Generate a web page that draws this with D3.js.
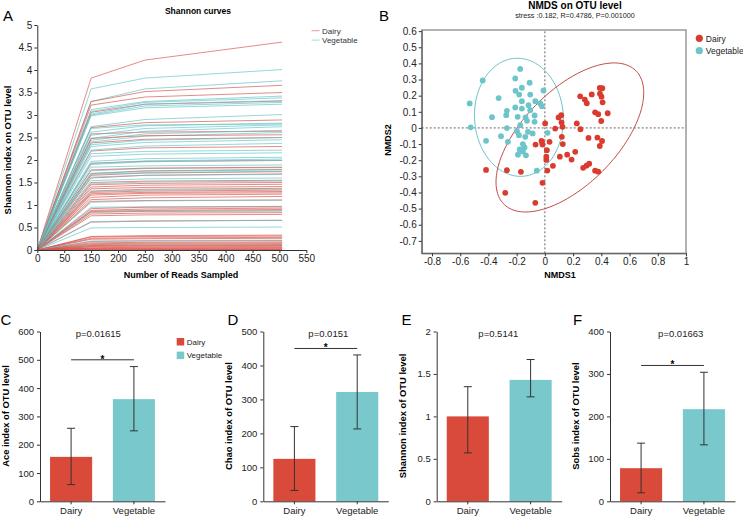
<!DOCTYPE html>
<html><head><meta charset="utf-8">
<script src="https://cdn.jsdelivr.net/npm/d3@7"></script>
<style>
body{margin:0;background:#fff}
svg{display:block;font-family:"Liberation Sans",Arial,Helvetica,sans-serif}
</style>
</head><body>
<svg id="c" width="743" height="518"></svg>
<script>
// ================= DATA =================
const groups = ["Dairy", "Vegetable"];

// Panel A: Shannon rarefaction curves
const readsTickLabels = [0, 50, 150, 200, 250, 300, 350, 400, 450, 500, 550];
const readsSamples = [0, 150, 250, 505];
const shannonTicks = [0, 0.5, 1, 1.5, 2, 2.5, 3, 3.5, 4, 4.5, 5];
// values at reads 150, 250, 505 (value at 0 reads is 0)
const dairyCurves = [
  [3.82,4.22,4.62],[3.30,3.52,3.66],[3.22,3.40,3.50],[3.06,3.24,3.31],[2.72,2.83,2.89],
  [2.58,2.62,2.64],[2.38,2.46,2.50],[2.20,2.27,2.30],[1.93,1.97,1.99],[1.70,1.76,1.79],
  [1.66,1.71,1.74],[1.60,1.66,1.69],[1.50,1.53,1.55],[1.45,1.48,1.50],[1.40,1.44,1.46],
  [1.36,1.39,1.41],[1.31,1.35,1.37],[1.28,1.31,1.33],[1.25,1.28,1.30],[1.22,1.26,1.27],
  [1.12,1.16,1.19],[1.08,1.10,1.11],[0.88,0.91,0.93],[0.86,0.88,0.90],[0.84,0.86,0.87],
  [0.80,0.82,0.83],[0.76,0.78,0.79],[0.62,0.64,0.66],[0.30,0.32,0.33],[0.29,0.30,0.31],
  [0.26,0.27,0.28],[0.24,0.25,0.26],[0.19,0.20,0.21],[0.16,0.17,0.18],[0.14,0.15,0.16],
  [0.12,0.13,0.14],[0.10,0.11,0.12],[0.08,0.09,0.10],[0.07,0.07,0.08],[0.05,0.06,0.06],
  [0.04,0.04,0.05],[0.03,0.03,0.03],[0.02,0.02,0.02],[0.01,0.01,0.01],[0.00,0.00,0.00],
  [0.00,0.00,0.00],[1.78,1.82,1.84],[1.17,1.22,1.24],[0.92,0.95,0.96],[2.48,2.54,2.56]
];
const vegetableCurves = [
  [3.58,3.82,4.01],[3.30,3.58,3.76],[3.12,3.30,3.42],[3.08,3.28,3.38],[3.02,3.24,3.32],
  [2.98,3.16,3.24],[2.74,2.90,3.01],[2.62,2.76,2.82],[2.55,2.70,2.78],[2.48,2.64,2.74],
  [2.44,2.58,2.66],[2.40,2.53,2.61],[2.30,2.39,2.45],[2.22,2.31,2.37],[2.14,2.19,2.22],
  [2.08,2.13,2.16],[1.97,2.03,2.06],[1.92,1.98,2.02],[1.90,1.96,1.99],[1.84,1.87,1.89],
  [1.76,1.81,1.83],[1.68,1.72,1.75],[1.62,1.66,1.68],[1.54,1.58,1.60],[1.47,1.51,1.53],
  [1.30,1.33,1.35],[1.06,1.09,1.11],[0.95,0.96,0.97],[0.84,0.86,0.87],[0.63,0.65,0.66],
  [0.49,0.50,0.51],[2.70,2.78,2.80],[3.00,3.20,3.28],[2.34,2.44,2.50],[1.70,1.75,1.78],
  [0.20,0.21,0.22],[0.10,0.10,0.11]
];

// Panel B: NMDS
const nmdsXTicks = [-0.8, -0.6, -0.4, -0.2, 0, 0.2, 0.4, 0.6, 0.8, 1];
const nmdsYTicks = [0.6, 0.5, 0.4, 0.3, 0.2, 0.1, 0, -0.1, -0.2, -0.3, -0.4, -0.5, -0.6, -0.7];
const nmdsDairy = [
  [-0.417,-0.26],[-0.269,-0.262],[-0.17,-0.272],[-0.281,-0.402],[-0.068,-0.464],[-0.017,-0.34],
  [0.017,-0.264],[0.002,0.028],[-0.066,-0.103],[-0.017,-0.103],[-0.021,-0.086],[0.033,-0.086],
  [0.014,-0.138],[0.010,-0.178],[0.010,-0.198],[0.057,-0.235],[0.073,-0.004],[0.097,0.065],
  [0.116,0.079],[0.118,0.034],[0.125,0.007],[0.120,-0.055],[0.127,-0.1],[0.106,-0.178],
  [0.158,-0.166],[0.189,-0.196],[0.215,-0.148],[0.226,0.028],[0.252,-0.008],[0.309,-0.062],
  [0.250,0.196],[0.283,0.176],[0.297,0.153],[0.332,0.208],[0.389,0.248],[0.407,0.246],
  [0.390,0.213],[0.401,0.194],[0.409,0.159],[0.356,0.097],[0.378,0.085],[0.445,0.091],
  [0.399,0.043],[0.372,-0.06],[0.405,-0.081],[0.389,-0.112],[0.314,-0.222],[0.295,-0.234],
  [0.271,-0.247],[0.356,-0.265],[0.378,-0.271],[-0.024,-0.08]
];
const nmdsVegetable = [
  [-0.175,0.366],[-0.441,0.294],[-0.21,0.307],[-0.108,0.28],[-0.163,0.249],[-0.208,0.23],
  [-0.182,0.207],[-0.010,0.232],[-0.328,0.185],[-0.533,0.152],[-0.104,0.207],[-0.163,0.166],
  [-0.068,0.166],[-0.033,0.152],[-0.021,0.135],[-0.116,0.141],[-0.21,0.127],[-0.163,0.12],
  [-0.269,0.106],[-0.274,0.079],[-0.104,0.11],[-0.193,0.069],[-0.137,0.065],[-0.073,0.077],
  [-0.375,0.067],[-0.127,0.044],[-0.073,0.038],[-0.175,0.017],[-0.526,0.004],[-0.269,-0.001],
  [-0.198,-0.02],[-0.12,-0.024],[-0.087,-0.034],[-0.184,-0.045],[-0.311,-0.051],[-0.139,-0.055],
  [0.019,-0.03],[-0.417,-0.08],[-0.262,-0.086],[-0.156,-0.1],[-0.144,-0.121],[-0.179,-0.133],
  [-0.156,-0.147],[-0.191,-0.166],[-0.134,-0.17],[-0.057,-0.265]
];
// confidence ellipses: [centerX, centerY, varX, varY, covXY]
const ellipseDairy = [0.177, -0.059, 0.274, 0.2134, 0.145];
const ellipseVegetable = [-0.184, 0.066, 0.0992, 0.134, -0.004];
const nmdsTitle = "NMDS on OTU level";
const nmdsSubtitle = "stress :0.182, R=0.4786, P=0.001000";

// Panels C-F: alpha diversity bars
const barLetters = ["C", "D", "E", "F"];
const barYLabels = ["Ace index of OTU level", "Chao index of OTU level", "Shannon index of OTU level", "Sobs index of OTU level"];
const barMeans = [[157, 361], [125, 322], [1.0, 1.43], [78, 217]];
const barLow = [[59, 249], [32, 213], [0.57, 1.23], [20, 133]];
const barHigh = [[258, 476], [220, 431], [1.35, 1.67], [137, 304]];
const barPValues = ["p=0.01615", "p=0.0151", "p=0.5141", "p=0.01663"];
const barSigLevel = [500, 450, null, 320];
const barYTicks = [
  [0, 100, 200, 300, 400, 500, 600],
  [0, 100, 200, 300, 400, 500],
  [0, 0.5, 1, 1.5, 2],
  [0, 100, 200, 300, 400]
];

// ================= STYLE / LAYOUT =================
const RED = "#da4a3a", CYAN = "#78c8cc";
const LINE_RED = "#d9534a", LINE_CYAN = "#62c3c8";
const AXIS = "#333";
const svg = d3.select("#c");

function styleAxis(g, fs) {
  g.selectAll(".domain").attr("stroke", AXIS).attr("stroke-width", 1);
  g.selectAll(".tick line").attr("stroke", AXIS);
  g.selectAll(".tick text").attr("fill", "#222").style("font-size", fs + "px")
    .style("font-family", '"Liberation Sans",Arial,sans-serif');
}
const fmt = d => String(+(+d).toFixed(2));

// ================= PANEL A =================
{
  const x0 = 37.3, step = 26.9;
  const ax = d3.scaleLinear().domain(readsTickLabels).range(readsTickLabels.map((d, i) => x0 + i * step));
  const ay = d3.scaleLinear().domain([0, 5]).range([250, 25]);
  const g = svg.append("g");

  const line = d3.line().x((d, i) => ax(readsSamples[i])).y(d => ay(d));
  const curves = [];
  const n = Math.max(dairyCurves.length, vegetableCurves.length);
  for (let i = 0; i < n; i++) {
    if (vegetableCurves[i]) curves.push({ g: 1, v: [0, ...vegetableCurves[i]] });
    if (dairyCurves[i]) curves.push({ g: 0, v: [0, ...dairyCurves[i]] });
  }
  g.append("g").selectAll("path").data(curves).join("path")
    .attr("d", d => line(d.v))
    .attr("fill", "none")
    .attr("stroke", d => d.g === 0 ? LINE_RED : LINE_CYAN)
    .attr("stroke-width", 0.75)
    .attr("stroke-opacity", 0.9);

  const yA = g.append("g").attr("transform", `translate(${x0},0)`)
    .call(d3.axisLeft(ay).tickValues(shannonTicks).tickFormat(fmt).tickSize(3).tickSizeOuter(0).tickPadding(2));
  styleAxis(yA, 10);
  const xA = g.append("g").attr("transform", `translate(0,${ay(0)})`)
    .call(d3.axisBottom(ax).tickValues(readsTickLabels).tickFormat(fmt).tickSize(3).tickSizeOuter(0).tickPadding(2));
  styleAxis(xA, 10);

  g.append("text").attr("x", 198).attr("y", 14).attr("text-anchor", "middle")
    .style("font-size", "8.5px").style("font-weight", "bold").text("Shannon curves");
  g.append("text").attr("transform", "translate(10.5,150) rotate(-90)").attr("text-anchor", "middle")
    .style("font-size", "9.5px").style("font-weight", "bold").text("Shannon index on OTU level");
  g.append("text").attr("x", 181).attr("y", 278).attr("text-anchor", "middle")
    .style("font-size", "9px").style("font-weight", "bold").text("Number of Reads Sampled");
  g.append("text").attr("x", 3).attr("y", 20.5).style("font-size", "15px").text("A");

  const leg = g.append("g").selectAll("g").data(groups).join("g")
    .attr("transform", (d, i) => `translate(311.5,${30.7 + i * 9.4})`);
  leg.append("line").attr("x1", 0).attr("x2", 8).attr("stroke", (d, i) => i ? LINE_CYAN : LINE_RED)
    .attr("stroke-width", 1).attr("stroke-opacity", 0.6);
  leg.append("text").attr("x", 10.5).attr("y", 3).style("font-size", "8px").attr("fill", "#333").text(d => d);
}

// ================= PANEL B =================
{
  const bx = d3.scaleLinear().domain([-0.873, 1]).range([421.7, 686]);
  const by = d3.scaleLinear().domain([-0.777, 0.607]).range([253.3, 30]);
  const g = svg.append("g");

  g.append("rect").attr("x", bx.range()[0]).attr("y", by.range()[1])
    .attr("width", bx.range()[1] - bx.range()[0]).attr("height", by.range()[0] - by.range()[1])
    .attr("fill", "none").attr("stroke", "#999").attr("stroke-width", 1.5);

  g.append("line").attr("x1", bx(0)).attr("x2", bx(0)).attr("y1", by.range()[0]).attr("y2", by.range()[1])
    .attr("stroke", "#666").attr("stroke-dasharray", "2,2").attr("stroke-width", 1);
  g.append("line").attr("y1", by(0)).attr("y2", by(0)).attr("x1", bx.range()[0]).attr("x2", bx.range()[1])
    .attr("stroke", "#666").attr("stroke-dasharray", "2,2").attr("stroke-width", 1);

  function ellipsePts(e) {
    const [cx, cy, vx, vy, cxy] = e;
    const sx = Math.sqrt(vx), k = cxy / sx, r = Math.sqrt(vy - k * k);
    return d3.range(0, 2 * Math.PI + 0.001, Math.PI / 90).map(t => [cx + sx * Math.cos(t), cy + k * Math.cos(t) + r * Math.sin(t)]);
  }
  const eline = d3.line().x(d => bx(d[0])).y(d => by(d[1]));
  g.append("path").attr("d", eline(ellipsePts(ellipseVegetable))).attr("fill", "none").attr("stroke", "#6cc3c7").attr("stroke-width", 1);
  g.append("path").attr("d", eline(ellipsePts(ellipseDairy))).attr("fill", "none").attr("stroke", "#c44a40").attr("stroke-width", 1);

  g.append("g").selectAll("circle").data(nmdsVegetable).join("circle")
    .attr("cx", d => bx(d[0])).attr("cy", d => by(d[1])).attr("r", 2.9).attr("fill", "#6cc5c9");
  g.append("g").selectAll("circle").data(nmdsDairy).join("circle")
    .attr("cx", d => bx(d[0])).attr("cy", d => by(d[1])).attr("r", 2.9).attr("fill", "#d93c2e");

  const yB = g.append("g").attr("transform", `translate(${bx.range()[0]},0)`)
    .call(d3.axisLeft(by).tickValues(nmdsYTicks).tickFormat(fmt).tickSize(3).tickSizeOuter(0).tickPadding(2));
  styleAxis(yB, 10);
  yB.select(".domain").attr("stroke", "#555");
  const xB = g.append("g").attr("transform", `translate(0,${by.range()[0]})`)
    .call(d3.axisBottom(bx).tickValues(nmdsXTicks).tickFormat(fmt).tickSize(3).tickSizeOuter(0).tickPadding(2));
  styleAxis(xB, 10);
  xB.select(".domain").attr("stroke", "#555");

  g.append("text").attr("x", 575).attr("y", 9).attr("text-anchor", "middle")
    .style("font-size", "10px").style("font-weight", "bold").text(nmdsTitle);
  g.append("text").attr("x", 575).attr("y", 18).attr("text-anchor", "middle")
    .style("font-size", "7.2px").attr("fill", "#222").text(nmdsSubtitle);
  g.append("text").attr("x", 560).attr("y", 278).attr("text-anchor", "middle")
    .style("font-size", "9px").style("font-weight", "bold").text("NMDS1");
  g.append("text").attr("transform", "translate(390.5,140) rotate(-90)").attr("text-anchor", "middle")
    .style("font-size", "9px").style("font-weight", "bold").text("NMDS2");
  g.append("text").attr("x", 379).attr("y", 20.5).style("font-size", "15px").text("B");

  const leg = g.append("g").selectAll("g").data(groups).join("g")
    .attr("transform", (d, i) => `translate(699.3,${38.3 + i * 12.4})`);
  leg.append("circle").attr("r", 3.6).attr("fill", (d, i) => i ? "#6cc5c9" : "#d93c2e");
  leg.append("text").attr("x", 6.5).attr("y", 3.2).style("font-size", "8.5px").attr("fill", "#222").text(d => d);
}

// ================= PANELS C-F =================
{
  const axisX = [40, 263.3, 436.7, 610];
  const pTextX = [98.3, 328.3, 498.3, 680.7];
  const letterX = [0.5, 227.5, 401.5, 573];
  const W = 125, yBottom = 501.3, yTop = 331.5;

  barLetters.forEach((L, k) => {
    const g = svg.append("g");
    const x = d3.scaleBand().domain(groups).range([axisX[k], axisX[k] + W]).paddingInner(0.33).paddingOuter(0.16);
    const ticks = barYTicks[k];
    const y = d3.scaleLinear().domain([0, ticks[ticks.length - 1]]).range([yBottom, yTop]);

    g.selectAll("rect.bar").data(groups).join("rect").attr("class", "bar")
      .attr("x", d => x(d)).attr("width", x.bandwidth())
      .attr("y", (d, i) => y(barMeans[k][i])).attr("height", (d, i) => y(0) - y(barMeans[k][i]))
      .attr("fill", (d, i) => i ? CYAN : RED);

    const eb = g.append("g").selectAll("g").data(groups).join("g")
      .attr("transform", d => `translate(${x(d) + x.bandwidth() / 2},0)`);
    eb.append("line").attr("y1", (d, i) => y(barLow[k][i])).attr("y2", (d, i) => y(barHigh[k][i]))
      .attr("stroke", "#333").attr("stroke-width", 1);
    eb.append("line").attr("x1", -4).attr("x2", 4).attr("y1", (d, i) => y(barLow[k][i])).attr("y2", (d, i) => y(barLow[k][i]))
      .attr("stroke", "#333").attr("stroke-width", 1);
    eb.append("line").attr("x1", -4).attr("x2", 4).attr("y1", (d, i) => y(barHigh[k][i])).attr("y2", (d, i) => y(barHigh[k][i]))
      .attr("stroke", "#333").attr("stroke-width", 1);

    const ya = g.append("g").attr("transform", `translate(${axisX[k]},0)`)
      .call(d3.axisLeft(y).tickValues(ticks).tickFormat(fmt).tickSize(3).tickSizeOuter(0).tickPadding(3));
    styleAxis(ya, 9.5);
    const xa = g.append("g").attr("transform", `translate(0,${yBottom})`)
      .call(d3.axisBottom(x).tickSize(3).tickSizeOuter(0).tickPadding(3));
    styleAxis(xa, 9.5);

    g.append("text").attr("x", pTextX[k]).attr("y", 336.8).attr("text-anchor", "middle")
      .style("font-size", "9.5px").attr("fill", "#222").text(barPValues[k]);

    if (barSigLevel[k] !== null) {
      const sy = y(barSigLevel[k]);
      const xa0 = x(groups[0]) + x.bandwidth() / 2, xa1 = x(groups[1]) + x.bandwidth() / 2;
      g.append("line").attr("x1", xa0).attr("x2", xa1).attr("y1", sy).attr("y2", sy)
        .attr("stroke", "#333").attr("stroke-width", 1);
      g.append("text").attr("x", (xa0 + xa1) / 2).attr("y", sy + 3).attr("text-anchor", "middle")
        .style("font-size", "10px").style("font-weight", "bold").text("*");
    }

    g.append("text").attr("transform", `translate(${axisX[k] - 31},416) rotate(-90)`).attr("text-anchor", "middle")
      .style("font-size", "9.4px").style("font-weight", "bold").text(barYLabels[k]);
    g.append("text").attr("x", letterX[k]).attr("y", 325).style("font-size", "15px").text(L);
  });

  const leg = svg.append("g").selectAll("g").data(groups).join("g")
    .attr("transform", (d, i) => `translate(176.7,${338 + i * 13.6})`);
  leg.append("rect").attr("width", 7.5).attr("height", 7.5).attr("fill", (d, i) => i ? CYAN : RED);
  leg.append("text").attr("x", 10).attr("y", 6.8).style("font-size", "8px").attr("fill", "#222").text(d => d);
}
</script>
</body></html>
